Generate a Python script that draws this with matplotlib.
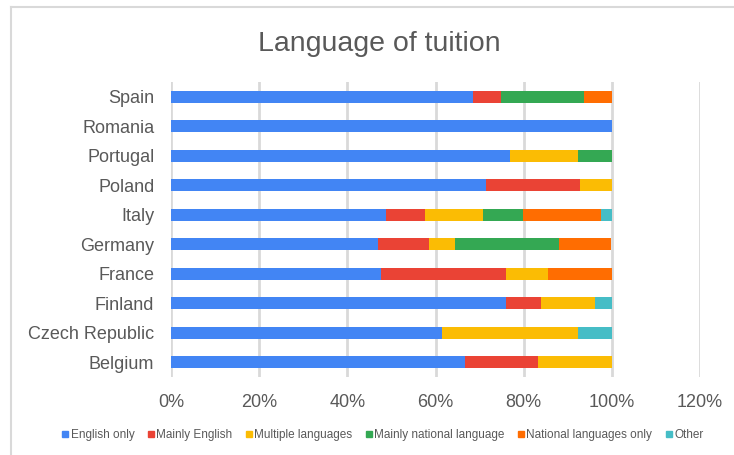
import numpy as np
import matplotlib
matplotlib.use('Agg')
import matplotlib.pyplot as plt
from matplotlib.lines import Line2D

plt.rcParams['font.family'] = ['Liberation Sans', 'DejaVu Sans']

countries = ['Spain', 'Romania', 'Portugal', 'Poland', 'Italy', 'Germany',
             'France', 'Finland', 'Czech Republic', 'Belgium']
series = ['English only', 'Mainly English', 'Multiple languages',
          'Mainly national language', 'National languages only', 'Other']
english_only = [68.6, 100.0, 76.9, 71.4, 48.7, 46.9, 47.6, 76.0, 61.5, 66.7]
mainly_english = [6.2, 0, 0, 21.4, 8.9, 11.7, 28.4, 8.0, 0, 16.6]
multiple = [0, 0, 15.4, 7.2, 13.2, 5.8, 9.6, 12.1, 30.8, 16.7]
mainly_national = [18.9, 0, 7.7, 0, 9.0, 23.7, 0, 0, 0, 0]
national_only = [6.3, 0, 0, 0, 17.7, 11.6, 14.4, 0, 0, 0]
other = [0, 0, 0, 0, 2.5, 0, 0, 3.9, 7.7, 0]
colors = ['#4285F4', '#EA4335', '#FBBC04', '#34A853', '#FF6D01', '#46BDC6']

data = [english_only, mainly_english, multiple, mainly_national, national_only, other]

fig = plt.figure(figsize=(7.34, 4.55), dpi=100)
ax = fig.add_axes([171/734, 1 - 377/455, (700 - 171)/734, (377 - 82)/455])

y = np.arange(len(countries))
left = np.zeros(len(countries))
for vals, col, name in zip(data, colors, series):
    v = np.array(vals) / 100.0
    ax.barh(y, v, left=left, height=0.42, color=col, label=name, zorder=3)
    left += v

ax.set_ylim(len(countries) - 0.5, -0.5)
ax.set_xlim(0, 1.2)
ax.set_xticks(np.arange(0, 1.21, 0.2))
ax.set_xticklabels([f'{int(round(t*100))}%' for t in np.arange(0, 1.21, 0.2)])
ax.set_yticks(y)
ax.set_yticklabels(countries)
ax.grid(axis='x', color='#d9d9d9', linewidth=2, zorder=0)
for s in ax.spines.values():
    s.set_visible(False)
ax.tick_params(axis='both', length=0, labelsize=13, colors='#595959')
ax.tick_params(axis='y', pad=12)
ax.tick_params(axis='x', pad=12)

fig.text(379/734, 1 - 44/455, 'Language of tuition', ha='center', va='center',
         fontsize=20.5, color='#595959')

handles = [Line2D([], [], marker='s', linestyle='none', markersize=5,
                  color=c) for c in colors]
fig.legend(handles, series, loc='center', bbox_to_anchor=(382/734, 1 - 435/455),
           ncol=6, frameon=False, fontsize=8.5, handletextpad=0.05,
           columnspacing=1.0, handlelength=0.8, labelcolor='#595959')

# chart frame
fig.add_artist(Line2D([11/734, 11/734], [0, 1 - 7/455], color='#d9d9d9', lw=1.5,
                      transform=fig.transFigure))
fig.add_artist(Line2D([11/734, 1], [1 - 7/455, 1 - 7/455], color='#d9d9d9', lw=1.5,
                      transform=fig.transFigure))

fig.savefig('out.png', dpi=100)
